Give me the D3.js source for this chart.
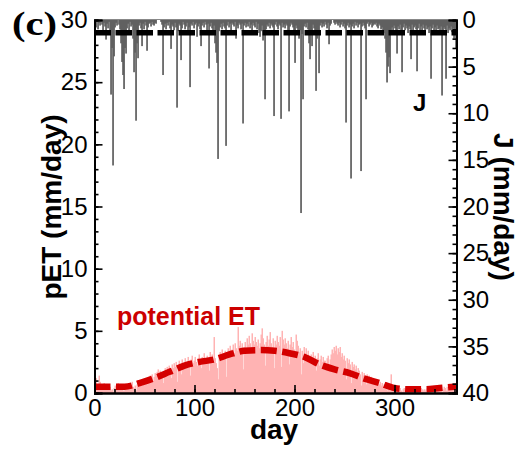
<!DOCTYPE html>
<html><head><meta charset="utf-8">
<script src="https://cdn.jsdelivr.net/npm/d3@7"></script>
<style>body{margin:0;background:#fff}</style>
</head><body><svg id="c" width="526" height="452"></svg>
<script>
// daily potential ET (mm/day), day 1..365
const pET = [
0.8,1.2,0.6,0.5,1.4,0.9,0.7,0.4,0.6,0.8,
0.5,0.3,0.7,0.6,0.4,0.5,0.2,0.3,0.1,0.4,
0.6,0.5,0.7,0.8,0.6,0.5,0.4,0.3,0.2,0.2,
0.4,0.3,0.6,0.7,0.5,0.8,0.6,0.9,0.5,0.4,
0.6,0.2,0.7,0.5,0.9,1.0,0.8,0.6,1.1,0.9,
1.2,1.0,0.7,1.3,1.1,1.4,1.2,1.5,1.0,1.3,
1.6,1.4,1.7,1.9,1.5,1.8,1.6,1.3,0.8,1.7,
2.0,1.8,2.1,1.7,2.2,1.9,1.2,2.3,2.0,2.4,
2.1,2.5,0.9,2.2,2.6,2.3,1.5,2.7,2.4,2.2,
2.8,2.5,2.3,2.9,2.6,1.4,2.7,3.0,2.4,2.6,
2.9,2.5,2.2,2.8,3.1,2.6,2.0,2.9,2.7,3.2,
2.8,2.5,3.0,2.7,1.8,3.3,2.9,3.1,2.6,4.5,
2.8,2.4,2.0,1.1,3.0,3.3,2.9,3.5,3.1,2.8,
3.4,1.3,3.2,3.6,3.0,3.8,3.3,3.5,3.9,3.2,
4.0,3.6,3.4,5.3,3.8,4.2,3.6,4.0,1.9,3.7,
4.1,3.5,4.4,3.9,4.6,4.0,3.7,4.8,4.2,3.9,
4.5,4.1,3.8,4.3,3.6,4.0,4.7,5.2,4.4,3.9,
2.2,4.1,4.6,3.8,4.3,4.9,4.0,3.7,4.4,2.0,
4.2,3.9,4.6,4.1,3.8,4.5,2.1,5.0,4.3,3.9,
4.4,4.0,3.6,4.2,2.3,3.9,4.5,3.7,4.1,3.5,
2.8,4.7,4.2,3.8,3.3,3.6,1.5,3.4,2.4,3.7,
3.2,3.6,3.0,3.4,2.8,2.6,3.1,2.9,3.3,2.7,
3.0,1.8,2.8,3.2,2.2,2.7,3.0,2.5,2.9,2.6,
2.6,2.4,2.8,3.0,1.9,2.7,3.1,3.5,3.2,3.7,
3.4,3.8,3.1,3.6,3.3,3.7,2.9,3.2,2.7,3.0,
2.6,1.1,2.8,2.4,2.7,2.3,0.8,2.5,2.1,2.3,
1.9,2.2,1.7,2.0,1.8,1.5,0.6,1.7,1.4,1.6,
1.3,0.7,1.5,1.2,1.4,1.1,1.3,0.9,1.2,1.0,
0.9,1.1,0.8,1.0,0.7,0.9,0.6,0.8,0.5,0.7,
0.4,0.3,0.2,0.3,0.4,0.2,1.5,0.6,0.4,0.5,
0.3,0.4,0.2,0.5,0.3,0.4,0.2,0.1,0.3,0.4,
0.2,0.3,0.2,0.1,0.3,0.2,0.1,0.3,0.2,0.3,
0.2,0.3,0.1,0.2,0.3,0.2,0.4,0.3,0.2,0.3,
0.2,0.3,0.4,0.2,0.3,0.2,0.1,0.3,0.4,0.3,
0.3,0.2,0.4,0.3,0.2,0.3,0.4,0.1,0.3,0.5,
0.4,0.2,0.5,0.3,0.6,0.4,0.5,0.3,0.7,0.4,
0.5,0.3,0.6,0.8,0.7];

// daily J (mm/day), day 1..365
const J = [
0.4,0.8,0.2,1.0,0.3,0.6,0,0.5,1.2,0.3,
0.7,2.1,0.4,0.9,0.2,1.1,8.0,3.0,15.6,3.9,
0.8,0.3,0.6,0,0.5,1.0,2.5,4.5,5.9,7.4,
3.0,3.6,0.9,0.4,1.1,0.2,0.7,0.5,2.0,5.6,
3.5,10.8,2.5,4.1,0.6,0.3,0.9,2.8,0.4,1.0,
0.2,0.6,3.3,0.8,0.4,0.3,0.7,0.2,0.5,0.6,
0.3,0.4,0,0,0,0,0.2,0.5,5.9,0.8,
0.4,1.0,0.3,0.6,0.2,0.9,3.1,0.5,0.7,1.1,
0.3,0.8,9.4,1.2,0.4,0.6,4.3,0.9,0.2,0.5,
1.0,0.7,0.3,1.3,0.8,7.2,0.4,0.6,0.2,0.9,
0.5,0.3,1.8,0.7,0.4,1.0,2.8,0.6,0.3,0.8,
0.2,0.5,1.1,0.4,5.2,0.7,0.3,0.9,1.5,0.6,
2.5,3.5,4.6,14.9,1.2,0.8,0.4,1.0,0.3,0.7,
0.9,13.5,0.6,0.2,0.8,0.4,1.1,0.3,0.5,0.7,
0.2,2.0,0.6,0.9,0.3,0.5,1.0,0.4,11.1,0.6,
0.3,0.8,0.4,0.7,0.2,0.9,0.5,1.1,0.3,0.6,
0.8,0.2,1.0,0.4,1.4,1.8,1.2,0.6,2.2,1.5,
8.5,1.0,0.5,0.7,0.3,0.9,0.4,0.6,0.8,10.3,
0.5,0.2,0.7,1.0,0.4,0.6,10.6,0.3,0.8,0.5,
0.9,0.4,0.6,1.2,9.8,0.7,0.3,0.5,0.8,1.3,
4.6,0.6,0.9,1.4,2.0,1.1,20.7,1.5,8.5,0.7,
0.4,0.8,0.3,1.0,2.5,4.2,1.2,2.8,0.5,0.9,
1.6,7.6,2.0,1.1,5.7,0.6,0.3,0.8,0.4,0.7,
0.2,0.5,0.9,0.3,2.6,0.6,0.4,0,0,0.3,
0.5,0.2,0.4,0.6,0.3,0.8,0.5,0.2,0.7,0.4,
0.9,11.0,0.6,0.3,0.8,0.5,17.0,0.7,0.4,0.9,
0.2,0.6,0.3,0.8,0.5,0.4,16.2,0.7,0.3,0.6,
0.9,8.5,0.4,0.2,0.7,0.5,0.3,0.8,0.6,0.4,
0.5,0.3,0.7,0.9,0.4,0.6,1.0,0.8,1.2,1.4,
2.0,3.5,6.7,5.0,4.0,5.7,1.5,0.8,1.1,0.6,
0.9,1.3,3.6,0.7,1.0,0.5,1.2,5.6,0.8,0.4,
1.1,0.6,0.9,1.4,0.7,1.0,4.2,0.5,1.2,0.8,
0.6,1.0,5.5,0.9,0.4,1.3,0.7,1.1,0.5,0.9,
1.2,0.6,1.0,0.8,1.4,0.7,6.3,0.9,0.5,1.1,
0.8,1.3,0.6,1.0,0.9,1.5,0.7,8.1,1.2,0.8,
1.0,6.3,0.6,1.4,0.9,1.1,0.7,1.3,0.9,2.0,
1.2,3.0,2.4,1.0,1.6];

// smoothed potential ET
const meanDays = [0,15,30,45,60,75,90,105,120,135,150,165,180,195,210,225,240,255,270,285,300,315,330,345,365];
const meanPET  = [0.5,0.5,0.5,0.8,1.2,1.7,2.2,2.5,2.7,3.1,3.4,3.45,3.4,3.2,2.9,2.3,1.9,1.6,1.15,0.8,0.4,0.3,0.3,0.4,0.55];
// mean J
const meanJ = [1.36];

const xTicks = [0,100,200,300];
const pETTicks = [0,5,10,15,20,25,30];
const jTicks = [0,5,10,15,20,25,30,35,40];

const svg = d3.select('#c');
const FONT = "'Liberation Sans', Arial, sans-serif";
const x = d3.scaleLinear().domain([0,362]).range([94.5,456.5]);
const y = d3.scaleLinear().domain([0,30]).range([393,20]);
const yJ = d3.scaleLinear().domain([0,40]).range([20,393]);
const days = pET.map((v,i)=>i+1);

svg.append('clipPath').attr('id','clip').append('rect')
  .attr('x',94.5).attr('y',19).attr('width',362).attr('height',374);
const plot = svg.append('g').attr('clip-path','url(#clip)');

plot.append('g').selectAll('rect').data(days).join('rect')
  .attr('x',d=>x(d-1)).attr('width',d=>(x(d)-x(d-1))*1.5)
  .attr('y',d=>y(pET[d-1])).attr('height',d=>y(0)-y(pET[d-1]))
  .attr('fill','#ffb3b3');

plot.append('path').datum(meanDays.map((d,i)=>[d,meanPET[i]]))
  .attr('d',d3.line().x(d=>x(d[0])).y(d=>y(d[1])).curve(d3.curveMonotoneX))
  .attr('fill','none').attr('stroke','#d40000').attr('stroke-width',6.5)
  .attr('stroke-dasharray','16,5.5');

plot.append('g').selectAll('rect').data(days).join('rect')
  .attr('x',d=>x(d-1)-0.3).attr('width',d=>(x(d)-x(d-1))*1.7)
  .attr('y',yJ(0)).attr('height',d=>yJ(J[d-1])-yJ(0))
  .attr('fill','#5e5e5e');

plot.append('line').attr('x1',x(0)).attr('x2',x(362))
  .attr('y1',yJ(meanJ[0])).attr('y2',yJ(meanJ[0]))
  .attr('stroke','#000').attr('stroke-width',5.5).attr('stroke-dasharray','16.5,4.5');

// top frame line
svg.append('line').attr('x1',94.5).attr('x2',456.5).attr('y1',19.5).attr('y2',19.5)
  .attr('stroke','#888').attr('stroke-width',1.2);

function styleAxis(g){
  g.selectAll('path').attr('stroke','#000').attr('stroke-width',2);
  g.selectAll('line').attr('stroke','#000').attr('stroke-width',1.6);
  g.selectAll('text').attr('font-family',FONT).attr('font-size',24).attr('fill','#000');
}
// minor ticks
svg.append('g').attr('transform','translate(94.5,0)')
  .call(d3.axisLeft(y).tickValues(d3.range(0,31,1)).tickSize(-4).tickFormat(''))
  .call(styleAxis);
svg.append('g').attr('transform','translate(456.5,0)')
  .call(d3.axisRight(yJ).tickValues(d3.range(0,41,1)).tickSize(-4).tickFormat(''))
  .call(styleAxis);
svg.append('g').attr('transform','translate(0,393)')
  .call(d3.axisBottom(x).tickValues(d3.range(0,361,20)).tickSize(-4).tickFormat(''))
  .call(styleAxis);
// major
svg.append('g').attr('transform','translate(94.5,0)')
  .call(d3.axisLeft(y).tickValues(pETTicks).tickSize(-8).tickPadding(7).tickFormat(d3.format('d')))
  .call(styleAxis);
svg.append('g').attr('transform','translate(456.5,0)')
  .call(d3.axisRight(yJ).tickValues(jTicks).tickSize(-8).tickPadding(6).tickFormat(d3.format('d')))
  .call(styleAxis);
svg.append('g').attr('transform','translate(0,393)')
  .call(d3.axisBottom(x).tickValues(xTicks).tickSize(-8).tickPadding(6).tickFormat(d3.format('d')))
  .call(styleAxis);

// titles
svg.append('text').attr('transform','translate(61,207) rotate(-90)')
  .attr('text-anchor','middle').attr('font-family',FONT).attr('font-weight','bold')
  .attr('font-size',28).text('pET (mm/day)');
svg.append('text').attr('transform','translate(494,207) rotate(90)')
  .attr('text-anchor','middle').attr('font-family',FONT).attr('font-weight','bold')
  .attr('font-size',28).text('J (mm/day)');
svg.append('text').attr('x',274).attr('y',439)
  .attr('text-anchor','middle').attr('font-family',FONT).attr('font-weight','bold')
  .attr('font-size',28).text('day');
svg.append('text').attr('x',413).attr('y',111)
  .attr('font-family',FONT).attr('font-weight','bold').attr('font-size',24).text('J');
svg.append('text').attr('x',117).attr('y',325)
  .attr('font-family',FONT).attr('font-weight','bold').attr('font-size',25)
  .attr('fill','#cc0000').text('potential ET');
svg.append('text').attr('x',12).attr('y',35)
  .attr('font-family',"'Liberation Serif', 'Times New Roman', serif").attr('font-weight','bold')
  .attr('font-size',34).attr('textLength',45).attr('lengthAdjust','spacingAndGlyphs').text('(c)');
</script></body></html>
